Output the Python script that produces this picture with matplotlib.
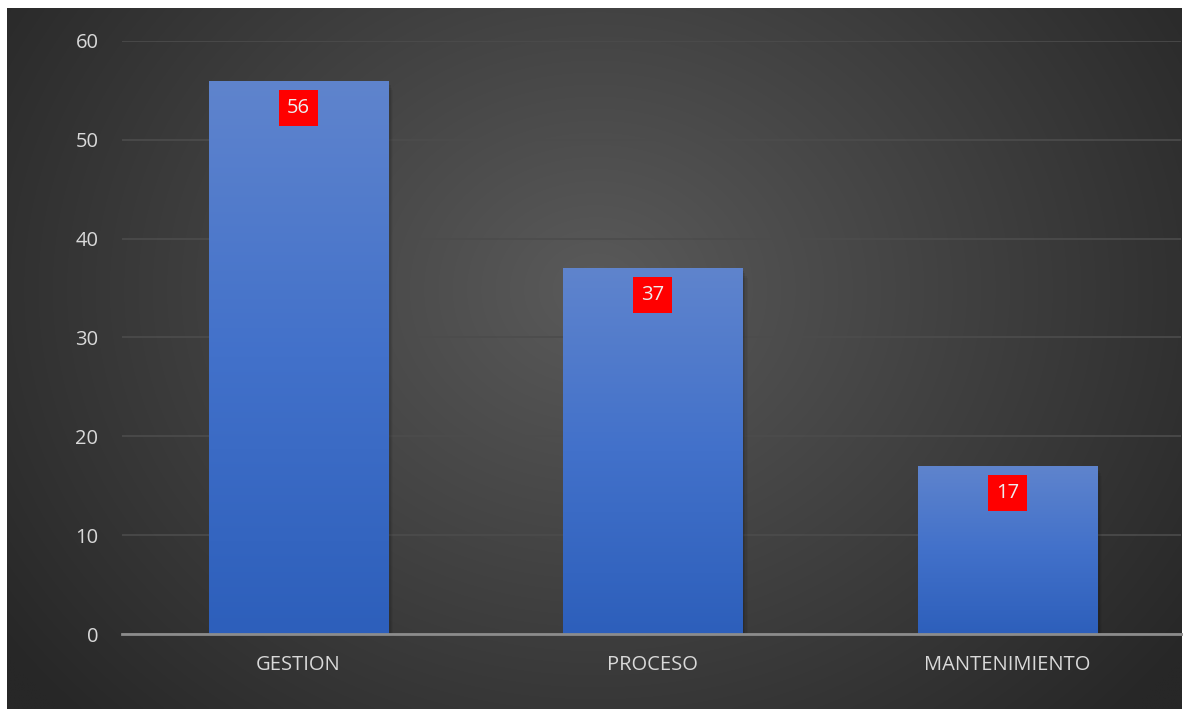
import numpy as np
import matplotlib
matplotlib.use("Agg")
import matplotlib.pyplot as plt
from matplotlib.colors import LinearSegmentedColormap

categories = ["GESTION", "PROCESO", "MANTENIMIENTO"]
values = [56, 37, 17]
yticks = [0, 10, 20, 30, 40, 50, 60]

plt.rcParams['font.family'] = ['Open Sans', 'DejaVu Sans']

W, H = 1183, 709
fig = plt.figure(figsize=(W / 100, H / 100), dpi=100, facecolor="white")

# dark radial-gradient background panel
bg_ax = fig.add_axes([7 / W, 0, (1182 - 7) / W, (H - 8) / H], zorder=0)
bg_ax.set_axis_off()
ny, nx = 300, 500
yy, xx = np.mgrid[0:ny, 0:nx]
cx, cy = nx * 0.50, ny * 0.40
r = np.sqrt(((xx - cx) / nx) ** 2 + ((yy - cy) / ny) ** 2 * 0.5)
r = np.clip(r / 0.62, 0, 1)
inner = np.array([0x5A, 0x5A, 0x5A]) / 255
outer = np.array([0x27, 0x27, 0x27]) / 255
img = inner[None, None, :] * (1 - r[..., None]) + outer[None, None, :] * r[..., None]
bg_ax.imshow(img, aspect="auto", extent=(0, 1, 0, 1), interpolation="bilinear")
bg_ax.set_xlim(0, 1)
bg_ax.set_ylim(0, 1)

# main axes
left = 122 / W
right = 1181 / W
bottom = (H - 634) / H
top = (H - 41) / H
ax = fig.add_axes([left, bottom, right - left, top - bottom], zorder=1)
ax.patch.set_alpha(0)

x = np.arange(len(categories))
bw = 0.505
bars = ax.bar(x, values, width=bw, color="none", edgecolor="none", zorder=3)

grad_cmap = LinearSegmentedColormap.from_list("bargrad", ["#2D5FBB", "#4271CA", "#5F84CD"])
grad = np.linspace(0, 1, 256).reshape(-1, 1)
for b, v in zip(bars, values):
    x0 = b.get_x()
    w = b.get_width()
    # soft shadow
    for k, a in enumerate([0.10, 0.08, 0.06, 0.04]):
        ax.bar(x0 + w / 2 + 0.004 * (k + 1), v, width=w, bottom=-0.25 * (k + 1),
               color="black", alpha=a, zorder=2, edgecolor="none")
    im = ax.imshow(grad, cmap=grad_cmap, aspect="auto", origin="lower",
                   extent=(x0, x0 + w, 0, v), zorder=3, interpolation="bilinear")
    im.set_clip_path(b)
    ax.annotate(f"{v}", xy=(x0 + w / 2, v), xytext=(0, -19.5), textcoords="offset points",
                ha="center", va="center", fontsize=14.5, color="#EDEDED", zorder=5,
                bbox=dict(boxstyle="square,pad=0.4", facecolor="#FF0000", edgecolor="none"))

ax.set_xlim(-0.497, 2.49)
ax.set_ylim(0, 60)
ax.set_yticks(yticks)
ax.set_xticks(x)
ax.set_xticklabels(categories)
ax.tick_params(axis="both", length=0, colors="#D9D9D9", labelsize=14.5)
ax.tick_params(axis="y", pad=17)
ax.tick_params(axis="x", pad=15)

ax.grid(axis="y", color="#4C4C4C", linewidth=1.2, zorder=0)
ax.set_axisbelow(True)
for s in ["top", "right", "left"]:
    ax.spines[s].set_visible(False)
ax.spines["bottom"].set_color("#8C8C8C")
ax.spines["bottom"].set_linewidth(2)
ax.spines["bottom"].set_zorder(4)

fig.savefig("out.png", dpi=100, facecolor="white")
